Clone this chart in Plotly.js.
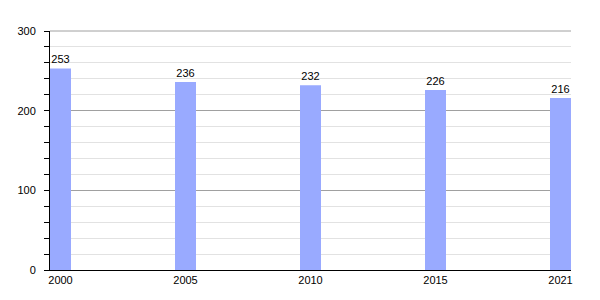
<!DOCTYPE html>
<html>
<head>
<meta charset="utf-8">
<script src="https://cdn.plot.ly/plotly-3.0.1.min.js"></script>
<style>html,body{margin:0;padding:0;background:#fff;}#chart{width:600px;height:300px;}</style>
</head>
<body>
<div id="chart"></div>
<script>
const years = ["2000", "2005", "2010", "2015", "2021"];
const values = [253, 236, 232, 226, 216];
const yTicks = [0, 100, 200, 300];

const trace = {
  type: 'bar',
  x: years,
  y: values,
  text: values.map(String),
  textposition: 'outside',
  cliponaxis: false,
  textfont: {family: 'Liberation Sans, Arial, sans-serif', size: 11, color: '#000'},
  marker: {color: '#99aaff', line: {width: 0}},
  width: 0.168,
  hoverinfo: 'none'
};

const layout = {
  width: 600, height: 300,
  margin: {l: 50, r: 29, t: 31, b: 30},
  paper_bgcolor: '#fff', plot_bgcolor: '#fff',
  showlegend: false,
  font: {family: 'Liberation Sans, Arial, sans-serif', size: 11, color: '#000'},
  xaxis: {
    type: 'category',
    range: [-0.084, 4.084],
    showgrid: false,
    showline: true, linecolor: '#000', linewidth: 1,
    ticks: '', ticklen: 0,
    tickfont: {size: 11},
    zeroline: false,
    fixedrange: true
  },
  yaxis: {
    range: [0, 300],
    tickvals: yTicks,
    ticktext: yTicks.map(String),
    showgrid: true, gridcolor: '#a0a0a0', gridwidth: 1,
    showline: true, linecolor: '#000', linewidth: 1,
    ticks: 'outside', ticklen: 5, tickcolor: '#000',
    ticklabelstandoff: 6,
    zeroline: false,
    minor: {dtick: 20, showgrid: true, gridcolor: '#e2e2e2', gridwidth: 1, ticks: 'outside', ticklen: 5, tickcolor: '#000'},
    tickfont: {size: 11},
    fixedrange: true
  },
  shapes: [{
    type: 'line', xref: 'paper', yref: 'paper',
    x0: 0, x1: 1, y0: 1, y1: 1,
    line: {color: '#a0a0a0', width: 1},
    layer: 'below'
  }]
};

Plotly.newPlot('chart', [trace], layout, {displayModeBar: false, staticPlot: true});
</script>
</body>
</html>
